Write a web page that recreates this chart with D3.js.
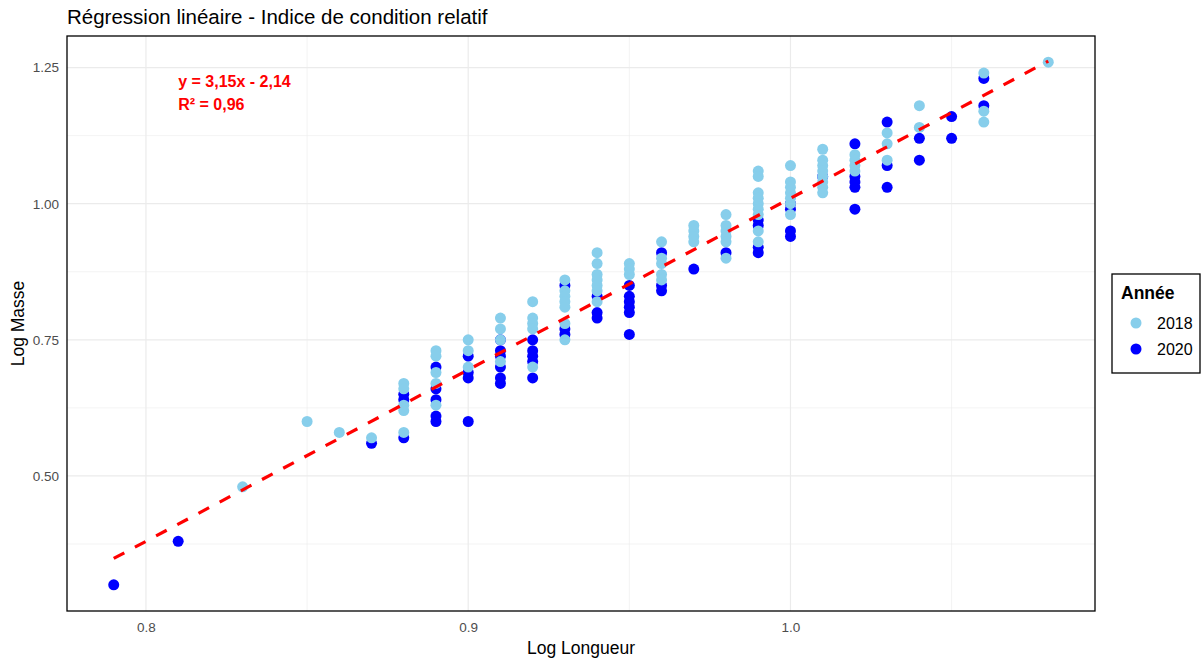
<!DOCTYPE html>
<html>
<head>
<meta charset="utf-8">
<script src="https://cdn.jsdelivr.net/npm/d3@7"></script>
<style>
  body { margin: 0; background: #fff; }
  svg { font-family: "Liberation Sans", Arial, sans-serif; }
</style>
</head>
<body>
<div id="chart"></div>
<script>
// log longueur / log masse, 2018 (light) and 2020 (dark)
var len2018 = [0.83, 0.85, 0.86, 0.87,
  0.88, 0.88, 0.88, 0.88, 0.88,
  0.89, 0.89, 0.89, 0.89, 0.89,
  0.90, 0.90, 0.90,
  0.91, 0.91, 0.91, 0.91,
  0.92, 0.92, 0.92, 0.92, 0.92,
  0.93, 0.93, 0.93, 0.93, 0.93, 0.93, 0.93,
  0.94, 0.94, 0.94, 0.94, 0.94, 0.94, 0.94,
  0.95, 0.95, 0.95,
  0.96, 0.96, 0.96, 0.96, 0.96,
  0.97, 0.97, 0.97, 0.97,
  0.98, 0.98, 0.98, 0.98, 0.98, 0.98,
  0.99, 0.99, 0.99, 0.99, 0.99, 0.99, 0.99, 0.99, 0.99,
  1.00, 1.00, 1.00, 1.00, 1.00, 1.00, 1.00,
  1.01, 1.01, 1.01, 1.01, 1.01, 1.01, 1.01, 1.01,
  1.02, 1.02, 1.02, 1.02,
  1.03, 1.03, 1.03,
  1.04, 1.04,
  1.06, 1.06, 1.06,
  1.08];
var mass2018 = [0.48, 0.60, 0.58, 0.57,
  0.67, 0.66, 0.63, 0.62, 0.58,
  0.73, 0.72, 0.69, 0.67, 0.63,
  0.75, 0.73, 0.70,
  0.79, 0.77, 0.75, 0.71,
  0.82, 0.79, 0.78, 0.77, 0.70,
  0.86, 0.84, 0.83, 0.82, 0.81, 0.78, 0.75,
  0.91, 0.89, 0.87, 0.86, 0.85, 0.84, 0.82,
  0.89, 0.88, 0.87,
  0.93, 0.90, 0.89, 0.87, 0.86,
  0.96, 0.95, 0.94, 0.93,
  0.98, 0.96, 0.95, 0.94, 0.93, 0.90,
  1.06, 1.05, 1.02, 1.01, 1.00, 0.99, 0.98, 0.95, 0.93,
  1.07, 1.04, 1.03, 1.02, 1.01, 1.00, 0.98,
  1.10, 1.08, 1.07, 1.06, 1.05, 1.04, 1.03, 1.02,
  1.09, 1.08, 1.07, 1.06,
  1.13, 1.11, 1.08,
  1.18, 1.14,
  1.24, 1.17, 1.15,
  1.26];

var len2020 = [0.79, 0.81, 0.87,
  0.88, 0.88, 0.88,
  0.89, 0.89, 0.89, 0.89, 0.89,
  0.90, 0.90, 0.90, 0.90,
  0.91, 0.91, 0.91, 0.91, 0.91, 0.91,
  0.92, 0.92, 0.92, 0.92, 0.92,
  0.93, 0.93, 0.93,
  0.94, 0.94, 0.94,
  0.95, 0.95, 0.95, 0.95, 0.95, 0.95,
  0.96, 0.96, 0.96,
  0.97, 0.98,
  0.99, 0.99, 0.99, 0.99,
  1.00, 1.00, 1.00, 1.00,
  1.01,
  1.02, 1.02, 1.02, 1.02, 1.02,
  1.03, 1.03, 1.03,
  1.04, 1.04,
  1.05, 1.05,
  1.06, 1.06];
var mass2020 = [0.30, 0.38, 0.56,
  0.65, 0.64, 0.57,
  0.70, 0.66, 0.64, 0.61, 0.60,
  0.72, 0.69, 0.68, 0.60,
  0.75, 0.73, 0.72, 0.70, 0.68, 0.67,
  0.75, 0.73, 0.72, 0.71, 0.68,
  0.85, 0.77, 0.76,
  0.83, 0.80, 0.79,
  0.85, 0.83, 0.82, 0.81, 0.80, 0.76,
  0.91, 0.85, 0.84,
  0.88, 0.91,
  0.97, 0.96, 0.92, 0.91,
  1.00, 0.99, 0.95, 0.94,
  1.05,
  1.11, 1.05, 1.04, 1.03, 0.99,
  1.15, 1.07, 1.03,
  1.12, 1.08,
  1.16, 1.12,
  1.23, 1.18];

var years = ["2018", "2020"];
var yearColors = ["#87CEEB", "#0000FF"];
var xTicks = [0.8, 0.9, 1.0];
var yTicks = [0.50, 0.75, 1.00, 1.25];
var slope = 3.15, intercept = -2.14;
var eqLabel = "y = 3,15x - 2,14";
var r2Label = "R² = 0,96";

var data = [];
len2020.forEach((v, i) => data.push({x: v, y: mass2020[i], year: "2020"}));
len2018.forEach((v, i) => data.push({x: v, y: mass2018[i], year: "2018"}));

var width = 1203, height = 659;
var margin = ({top: 36, right: 108, bottom: 48, left: 67});

var color = d3.scaleOrdinal().domain(years).range(yearColors);

// ggplot-style 5% expansion
var xExt = d3.extent(data, d => d.x), yExt = d3.extent(data, d => d.y);
var xPad = (xExt[1] - xExt[0]) * 0.05, yPad = (yExt[1] - yExt[0]) * 0.05;

var x = d3.scaleLinear()
    .domain([xExt[0] - xPad, xExt[1] + xPad])
    .range([margin.left, width - margin.right]);
var y = d3.scaleLinear()
    .domain([yExt[0] - yPad, yExt[1] + yPad])
    .range([height - margin.bottom, margin.top]);

var svg = d3.select("#chart").append("svg")
    .attr("width", width)
    .attr("height", height);

// grid: minor then major
var xMinor = [0.75, 0.85, 0.95, 1.05].filter(v => v > x.domain()[0] && v < x.domain()[1]);
var yMinor = [0.375, 0.625, 0.875, 1.125];

var grid = svg.append("g");
grid.selectAll(".xminor").data(xMinor).join("line")
    .attr("x1", d => x(d)).attr("x2", d => x(d))
    .attr("y1", margin.top).attr("y2", height - margin.bottom)
    .attr("stroke", "#EBEBEB").attr("stroke-width", 0.6);
grid.selectAll(".yminor").data(yMinor).join("line")
    .attr("y1", d => y(d)).attr("y2", d => y(d))
    .attr("x1", margin.left).attr("x2", width - margin.right)
    .attr("stroke", "#EBEBEB").attr("stroke-width", 0.6);
grid.selectAll(".xmajor").data(xTicks).join("line")
    .attr("x1", d => x(d)).attr("x2", d => x(d))
    .attr("y1", margin.top).attr("y2", height - margin.bottom)
    .attr("stroke", "#EBEBEB").attr("stroke-width", 1.2);
grid.selectAll(".ymajor").data(yTicks).join("line")
    .attr("y1", d => y(d)).attr("y2", d => y(d))
    .attr("x1", margin.left).attr("x2", width - margin.right)
    .attr("stroke", "#EBEBEB").attr("stroke-width", 1.2);

// axes (labels only)
var xAxis = g => g
    .attr("transform", `translate(0,${height - margin.bottom})`)
    .call(d3.axisBottom(x).tickValues(xTicks).tickFormat(d3.format(".1f")).tickSize(0).tickPadding(11))
    .call(g => g.select(".domain").remove())
    .call(g => g.selectAll("text").attr("fill", "#4D4D4D").style("font-size", "13.5px"));
var yAxis = g => g
    .attr("transform", `translate(${margin.left},0)`)
    .call(d3.axisLeft(y).tickValues(yTicks).tickFormat(d3.format(".2f")).tickSize(0).tickPadding(8))
    .call(g => g.select(".domain").remove())
    .call(g => g.selectAll("text").attr("fill", "#4D4D4D").style("font-size", "13.5px"));
svg.append("g").call(xAxis);
svg.append("g").call(yAxis);

// points
svg.append("g")
    .selectAll("circle")
    .data(data)
    .join("circle")
    .attr("cx", d => x(d.x))
    .attr("cy", d => y(d.y))
    .attr("r", 5.5)
    .attr("fill", d => color(d.year));

// regression line
svg.append("line")
    .attr("x1", x(xExt[0])).attr("y1", y(slope * xExt[0] + intercept))
    .attr("x2", x(xExt[1])).attr("y2", y(slope * xExt[1] + intercept))
    .attr("stroke", "#FF0000")
    .attr("stroke-width", 3.2)
    .attr("stroke-dasharray", "12,12");

// equation
svg.append("g")
    .attr("fill", "#FF0000")
    .style("font-size", "16px")
    .style("font-weight", "bold")
    .selectAll("text")
    .data([eqLabel, r2Label])
    .join("text")
    .attr("x", x(0.81))
    .attr("y", (d, i) => 87 + i * 23)
    .text(d => d);

// panel border
svg.append("rect")
    .attr("x", margin.left).attr("y", margin.top)
    .attr("width", width - margin.left - margin.right)
    .attr("height", height - margin.top - margin.bottom)
    .attr("fill", "none")
    .attr("stroke", "#000")
    .attr("stroke-width", 1.3);

// titles
svg.append("text")
    .attr("x", margin.left).attr("y", 24)
    .style("font-size", "20.5px")
    .text("Régression linéaire - Indice de condition relatif");
svg.append("text")
    .attr("x", (margin.left + width - margin.right) / 2).attr("y", 654)
    .attr("text-anchor", "middle")
    .style("font-size", "17.5px")
    .text("Log Longueur");
svg.append("text")
    .attr("transform", `translate(24,${(margin.top + height - margin.bottom) / 2}) rotate(-90)`)
    .attr("text-anchor", "middle")
    .style("font-size", "17.5px")
    .text("Log Masse");

// legend
var legend = svg.append("g").attr("transform", "translate(1112,274)");
legend.append("rect")
    .attr("width", 88).attr("height", 99)
    .attr("fill", "#fff").attr("stroke", "#000").attr("stroke-width", 1.3);
legend.append("text")
    .attr("x", 9).attr("y", 25)
    .style("font-size", "17.5px").style("font-weight", "bold")
    .text("Année");
var item = legend.selectAll(".item").data(years).join("g")
    .attr("transform", (d, i) => `translate(0,${49 + i * 26})`);
item.append("circle").attr("cx", 24).attr("r", 5.5).attr("fill", d => color(d));
item.append("text").attr("x", 45).attr("dy", "0.35em")
    .style("font-size", "16px").text(d => d);
</script>
</body>
</html>
